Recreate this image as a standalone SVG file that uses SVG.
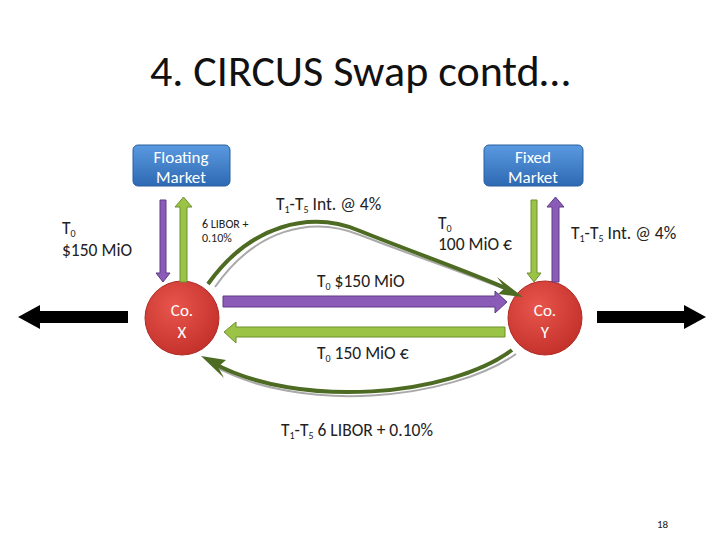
<svg xmlns="http://www.w3.org/2000/svg" width="728" height="546" viewBox="0 0 728 546">
<defs>
<style>
text{font-family:Calibri,"Open Sans","Liberation Sans",sans-serif;fill:#222}
.t{font-size:17.5px}
.w{fill:#fff;font-size:17px;text-anchor:middle}
.mk{stroke:#2a5e9e;stroke-width:1}
.co{stroke:#b02a24;stroke-width:1}
.pu{fill:#8a5cb8;stroke:#5e3b85;stroke-width:1}
.gr{fill:#9bc447;stroke:#6f8f2c;stroke-width:1}
.bk{fill:#000}
.cv{fill:none;stroke:#4e6b24;stroke-width:4}
.sh{fill:none;stroke:#aaa;stroke-width:2}
</style>
<linearGradient id="mg" x1="0" y1="0" x2="0" y2="1"><stop offset="0" stop-color="#5a9ae0"/><stop offset="1" stop-color="#2e69b3"/></linearGradient>
<radialGradient id="cg" cx="0.4" cy="0.35" r="0.7"><stop offset="0" stop-color="#e8554c"/><stop offset="1" stop-color="#c2302a"/></radialGradient>
</defs>
<rect width="728" height="546" fill="#fff"/>
<text x="150" y="86" style="font-size:44px;fill:#111">4. CIRCUS Swap contd…</text>

<g id="floating-market"><rect class="mk" x="133" y="145" width="97" height="41" rx="5" fill="url(#mg)"/><text class="w" x="181" y="163">Floating</text><text class="w" x="181" y="183">Market</text></g>
<g id="fixed-market"><rect class="mk" x="484" y="145" width="99" height="41" rx="5" fill="url(#mg)"/><text class="w" x="533" y="163">Fixed</text><text class="w" x="533" y="183">Market</text></g>
<g id="co-x"><circle class="co" cx="182" cy="318" r="37" fill="url(#cg)"/><text class="w" x="182" y="316">Co.</text><text class="w" x="182" y="338">X</text></g>
<g id="co-y"><circle class="co" cx="545" cy="318" r="37" fill="url(#cg)"/><text class="w" x="545" y="316">Co.</text><text class="w" x="545" y="338">Y</text></g>

<g id="connectors">
<polygon class="pu" points="160,200 166,200 166,273 170,273 163,282 156,273 160,273"/>
<polygon class="gr" points="180,282 187,282 187,207 192,207 183.5,197 175,207 180,207"/>
<polygon class="gr" points="531,200 537,200 537,273 541,273 534,282 527,273 531,273"/>
<polygon class="pu" points="552,282 559,282 559,207 564,207 555.5,197 547,207 552,207"/>
<polygon class="pu" points="223,296 495,296 495,291 507,302 495,313 495,307 223,307"/>
<polygon class="gr" points="505,327 236,327 236,322 224,332 236,343 236,337 505,337"/>
<polygon class="bk" points="128,311 40,311 40,305 18,317 40,329 40,323 128,323"/>
<polygon class="bk" points="597,311 684,311 684,305 706,317 684,329 684,323 597,323"/>
<path class="sh" d="M215,287 C255,230 310,215 360,235 C420,258 470,275 512,292"/>
<path class="cv" d="M208,284 C250,225 310,210 360,231 C420,255 470,272 510,290"/>
<polygon points="523,297 498,294 505,288 497,277" fill="#4e6b24"/>
<path class="sh" d="M516,354 C450,400 300,415 212,365"/>
<path class="cv" d="M512,350 C450,396 300,410 213,363"/>
<polygon points="201,356 226,360 218,367 224,378" fill="#4e6b24"/>
</g>

<g id="labels">
<text class="t" x="62" y="234">T<tspan font-size="10" dy="3">0</tspan></text>
<text class="t" x="62" y="256">$150 MiO</text>
<text x="202" y="228" font-size="12">6 LIBOR +</text>
<text x="202" y="242" font-size="12">0.10%</text>
<text class="t" x="276" y="210">T<tspan font-size="10" dy="3">1</tspan><tspan dy="-3">-T</tspan><tspan font-size="10" dy="3">5</tspan><tspan dy="-3"> Int. @ 4%</tspan></text>
<text class="t" x="438" y="229">T<tspan font-size="10" dy="3">0</tspan></text>
<text class="t" x="438" y="250">100 MiO €</text>
<text class="t" x="571" y="239">T<tspan font-size="10" dy="3">1</tspan><tspan dy="-3">-T</tspan><tspan font-size="10" dy="3">5</tspan><tspan dy="-3"> Int. @ 4%</tspan></text>
<text class="t" x="317" y="287">T<tspan font-size="10" dy="3">0</tspan><tspan dy="-3"> $150 MiO</tspan></text>
<text class="t" x="317" y="359">T<tspan font-size="10" dy="3">0</tspan><tspan dy="-3"> 150 MiO €</tspan></text>
<text class="t" x="281" y="436">T<tspan font-size="10" dy="3">1</tspan><tspan dy="-3">-T</tspan><tspan font-size="10" dy="3">5</tspan><tspan dy="-3"> 6 LIBOR + 0.10%</tspan></text>
<text x="657" y="528" font-size="11" fill="#666">18</text>
</g>
</svg>
